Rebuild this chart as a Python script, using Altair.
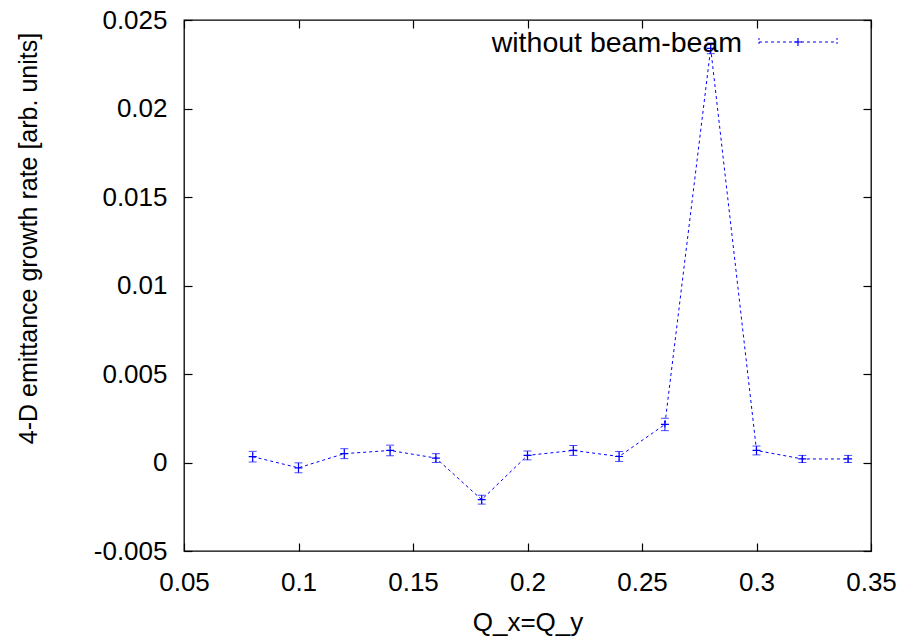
import altair as alt
import pandas as pd

# ---- data ----
qx = [0.08, 0.10, 0.12, 0.14, 0.16, 0.18, 0.20, 0.22, 0.24, 0.26, 0.28, 0.30, 0.32, 0.34]
rate = [0.00033, -0.00030, 0.00050, 0.00068, 0.00025, -0.00210, 0.00040, 0.00068,
        0.00034, 0.00215, 0.02340, 0.00068, 0.00020, 0.00020]
err = [0.00030, 0.00028, 0.00028, 0.00030, 0.00025, 0.00025, 0.00025, 0.00028,
       0.00028, 0.00035, 0.00030, 0.00025, 0.00020, 0.00020]
x_ticks = [0.05, 0.10, 0.15, 0.20, 0.25, 0.30, 0.35]
y_ticks = [-0.005, 0.0, 0.005, 0.01, 0.015, 0.02, 0.025]
series_label = "without beam-beam"
x_title = "Q_x=Q_y"
y_title = "4-D emittance growth rate [arb. units]"

df = pd.DataFrame({"qx": qx, "rate": rate, "err": err})
df["lo"] = df["rate"] - df["err"]
df["hi"] = df["rate"] + df["err"]

FONT = "Liberation Sans"
FS = 26
BLUE = "#0000ff"
PLUS = "M-1,0L1,0M0,-1L0,1"

W, H = 687, 531

xs = alt.Scale(domain=[0.05, 0.35], nice=False, zero=False)
ys = alt.Scale(domain=[-0.005, 0.025], nice=False, zero=False)

lab = "datum.value < 0 ? '-' + format(-datum.value, '~g') : format(datum.value, '~g')"

x_main = alt.X("qx:Q", scale=xs, title=x_title,
               axis=alt.Axis(orient="bottom", values=x_ticks, labelExpr=lab, offset=-8,
                             tickSize=8, domain=False, grid=False, labelPadding=18,
                             labelFlush=False, labelOverlap=False,
                             titleY=79, titleBaseline="middle", titleAnchor="middle"))
y_main = alt.Y("rate:Q", scale=ys, title=y_title,
               axis=alt.Axis(orient="left", values=y_ticks, labelExpr=lab, offset=-8,
                             tickSize=8, domain=False, grid=False, labelPadding=17,
                             labelFlush=False, labelOverlap=False,
                             titleX=-164, titleY=218, titleAngle=270, titleFontSize=25,
                             titleBaseline="middle", titleAlign="center"))

base = alt.Chart(df)

line = base.mark_line(color=BLUE, strokeWidth=1, strokeDash=[3, 3]).encode(x=x_main, y=y_main)
bars = base.mark_rule(color=BLUE, strokeWidth=1, strokeDash=[2, 2]).encode(
    x="qx:Q", y="lo:Q", y2="hi:Q")
cap_hi = base.mark_tick(color=BLUE, orient="horizontal", size=8, thickness=1, opacity=0.7).encode(
    x="qx:Q", y="hi:Q")
cap_lo = base.mark_tick(color=BLUE, orient="horizontal", size=8, thickness=1, opacity=0.7).encode(
    x="qx:Q", y="lo:Q")
pts = base.mark_point(shape=PLUS, size=64, filled=False, color=BLUE, strokeWidth=1.2,
                      opacity=1).encode(x="qx:Q", y="rate:Q")

data_layer = alt.layer(line, bars, cap_hi, cap_lo, pts)

mirror = base.mark_point(opacity=0).encode(
    x=alt.X("qx:Q", scale=xs,
            axis=alt.Axis(orient="top", values=x_ticks, labels=False, offset=-8, tickSize=8,
                          domain=False, grid=False, title=None)),
    y=alt.Y("rate:Q", scale=ys,
            axis=alt.Axis(orient="right", values=y_ticks, labels=False, offset=-8, tickSize=8,
                          domain=False, grid=False, title=None)),
)

leg_df = pd.DataFrame({"label": [series_label]})
leg = alt.Chart(leg_df)
leg_text = leg.mark_text(align="right", baseline="middle", font=FONT, fontSize=28.5,
                         color="black").encode(x=alt.value(558), y=alt.value(23), text="label:N")
leg_line = leg.mark_rule(color=BLUE, strokeWidth=1, strokeDash=[3, 3]).encode(
    x=alt.value(575), x2=alt.value(653), y=alt.value(22))
leg_cap1 = leg.mark_rule(color=BLUE, strokeWidth=1, strokeDash=[2, 2]).encode(
    x=alt.value(575), y=alt.value(18), y2=alt.value(26))
leg_cap2 = leg.mark_rule(color=BLUE, strokeWidth=1, strokeDash=[2, 2]).encode(
    x=alt.value(653), y=alt.value(18), y2=alt.value(26))
leg_pt = leg.mark_point(shape=PLUS, size=64, filled=False, color=BLUE, strokeWidth=1.2,
                        opacity=1).encode(x=alt.value(614), y=alt.value(22))

chart = alt.layer(
    data_layer, mirror, leg_text, leg_line, leg_cap1, leg_cap2, leg_pt
).resolve_axis(x="independent", y="independent").properties(
    width=W, height=H,
    autosize=alt.AutoSizeParams(type="none"),
    padding={"left": 184, "top": 20, "right": 36, "bottom": 90},
    background="white",
).configure_view(
    stroke="black", strokeWidth=1.3
).configure_axis(
    labelFont=FONT, labelFontSize=FS, labelColor="black",
    titleFont=FONT, titleFontSize=FS, titleColor="black", titleFontWeight="normal",
    tickColor="black", tickWidth=1.2,
)

chart.save("out.html", embed_options={"renderer": "svg", "actions": False})
